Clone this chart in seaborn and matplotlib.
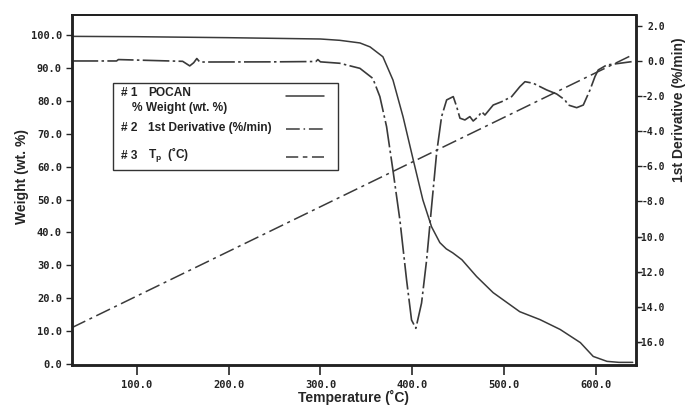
import numpy as np
import pandas as pd
import matplotlib
matplotlib.use("Agg")
import matplotlib.pyplot as plt
import seaborn as sns

# weight loss curve (left axis)
wt_temp = [29, 100, 200, 300, 321, 343, 354, 368, 379, 390, 401, 411.5, 421, 430,
           437, 444, 454, 470, 488, 517, 539, 561, 583, 597, 612, 625, 640]
wt_val = [99.6, 99.5, 99.2, 98.8, 98.4, 97.6, 96.4, 93.4, 86.3, 75.1, 62.1, 49.9, 41.7, 36.9,
          35.0, 33.8, 31.7, 26.6, 21.7, 15.9, 13.5, 10.5, 6.5, 2.3, 0.8, 0.5, 0.5]

# 1st derivative (right axis)
dv_temp = [29, 78, 80, 150, 157.7, 162, 165.4, 168.6, 250, 295, 297.2, 300, 321, 343, 357,
           364.7, 372, 378.9, 386.5, 393.8, 399.2, 403.9, 410.1, 415.6, 421, 426.5, 431.9,
           437.4, 444.6, 448.3, 451.9, 457.3, 462.7, 466.3, 471.8, 475.5, 479.1, 488.1,
           497.3, 508.2, 517.2, 522.7, 531.7, 546.3, 557.2, 566.2, 569.8, 579, 586.2,
           593.5, 598.9, 602.5, 611.7, 626.1, 638.8]
dv_val = [0.0, 0.0, 0.08, -0.02, -0.28, -0.1, 0.14, -0.06, -0.05, -0.03, 0.08, -0.05, -0.13,
          -0.42, -0.99, -2.03, -3.74, -6.21, -9.06, -12.48, -14.76, -15.23, -13.79, -11.34,
          -8.30, -5.24, -3.17, -2.22, -2.03, -2.60, -3.26, -3.36, -3.17, -3.42, -3.17,
          -2.89, -3.08, -2.51, -2.32, -2.03, -1.46, -1.18, -1.27, -1.65, -1.88, -2.22,
          -2.51, -2.66, -2.51, -1.65, -0.89, -0.51, -0.23, -0.13, -0.04]

# Tp line (left axis scale)
tp_temp = [29, 640]
tp_val = [11.0, 94.0]

left_ticks = [0, 10, 20, 30, 40, 50, 60, 70, 80, 90, 100]
right_ticks = [2, 0, -2, -4, -6, -8, -10, -12, -14, -16]
x_ticks = [100, 200, 300, 400, 500, 600]

sns.set_style("ticks")
plt.rcParams['mathtext.fontset'] = 'custom'
plt.rcParams['mathtext.bf'] = 'Liberation Sans:bold'
plt.rcParams['mathtext.rm'] = 'Liberation Sans'

line_col = '#3a3a3a'
fig = plt.figure(figsize=(6.85, 4.05), dpi=100)
ax = fig.add_axes([0.1047, 0.0988, 0.8238, 0.8642])
ax2 = ax.twinx()

df_w = pd.DataFrame({'T': wt_temp, 'w': wt_val})
df_d = pd.DataFrame({'T': dv_temp, 'd': dv_val})
df_t = pd.DataFrame({'T': tp_temp, 'tp': tp_val})

sns.lineplot(data=df_w, x='T', y='w', ax=ax, color=line_col, linewidth=1.1)
sns.lineplot(data=df_t, x='T', y='tp', ax=ax, color=line_col, linewidth=1.1,
             linestyle=(0, (10, 3, 2, 3)))
sns.lineplot(data=df_d, x='T', y='d', ax=ax2, color=line_col, linewidth=1.2,
             linestyle=(0, (16, 2, 1.5, 2)))

ax.set_xlim(29.2, 643.6)
ax.set_ylim(-0.3, 106.1)
ax2.set_ylim(-17.32, 2.62)

tick_font = dict(family='DejaVu Sans Mono', weight='bold', size=7.5)
rtick_font = dict(family='DejaVu Sans Mono', weight='bold', size=7.0)
lab_font = dict(family='Liberation Sans', weight='bold', size=10)

ax.set_xticks(x_ticks)
ax.set_xticklabels([f"{v:.1f}" for v in x_ticks], fontdict=tick_font, color='#222222')
ax.set_yticks(left_ticks)
ax.set_yticklabels([f"{v:.1f}" for v in left_ticks], fontdict=tick_font, color='#222222')
ax2.set_yticks(right_ticks)
ax2.set_yticklabels([f"{v:.1f}" for v in right_ticks], fontdict=rtick_font,
                    color='#222222', ha='right')

ax.tick_params(axis='x', direction='out', length=7, width=1.2, pad=4)
ax.tick_params(axis='y', direction='out', length=4, width=1.0, pad=3)
ax2.tick_params(axis='y', direction='out', length=4, width=1.0, pad=17)


# positions in pixels of the figure -> axes fractions
def fx(px):
    return (px - 71.7) / 564.3


def fy(py):
    return (365 - py) / 350


ax.set_xlabel("Temperature (˚C)", fontdict=lab_font)
ax.xaxis.set_label_coords(0.5, fy(390))
ax.set_ylabel("Weight (wt. %)", fontdict=lab_font)
ax.yaxis.set_label_coords(fx(29), fy(177))
ax2.set_ylabel("1st Derivative (%/min)", fontdict=lab_font)
ax2.yaxis.set_label_coords(fx(672), fy(110))

for a in (ax, ax2):
    for s in a.spines.values():
        s.set_visible(True)
        s.set_linewidth(1.8)
        s.set_color('#222222')
ax.spines['top'].set_linewidth(1.4)
ax2.spines['top'].set_linewidth(1.4)

# legend box drawn by hand
box = plt.Rectangle((fx(113), fy(170)), fx(338) - fx(113), fy(83) - fy(170),
                    transform=ax.transAxes, fill=True, facecolor='white',
                    edgecolor='#333333', linewidth=1.0, zorder=5)
ax.add_patch(box)

leg_font = dict(family='Liberation Sans', weight='bold', size=8.6, color='#222222')
ax.text(fx(121), fy(93), "# 1", transform=ax.transAxes, va='center', zorder=6, **leg_font)
ax.text(fx(148), fy(93), "POCAN", transform=ax.transAxes, va='center', zorder=6, **leg_font)
ax.text(fx(132), fy(108), "% Weight (wt. %)", transform=ax.transAxes, va='center', zorder=6, **leg_font)
ax.text(fx(121), fy(128), "# 2", transform=ax.transAxes, va='center', zorder=6, **leg_font)
ax.text(fx(148), fy(128), "1st Derivative (%/min)", transform=ax.transAxes, va='center', zorder=6, **leg_font)
ax.text(fx(121), fy(156), "# 3", transform=ax.transAxes, va='center', zorder=6, **leg_font)
ax.text(fx(148), fy(156), r"$\mathbf{T_p}$  (˚C)", transform=ax.transAxes, va='center', zorder=6, **leg_font)

ax.plot([fx(286), fx(324)], [fy(96), fy(96)], transform=ax.transAxes, color=line_col,
        linewidth=1.1, zorder=6)
ax.plot([fx(286), fx(324)], [fy(129), fy(129)], transform=ax.transAxes, color=line_col,
        linewidth=1.1, linestyle=(0, (9, 2.5, 1, 2.5)), zorder=6)
ax.plot([fx(286), fx(324)], [fy(157), fy(157)], transform=ax.transAxes, color=line_col,
        linewidth=1.1, linestyle=(0, (8, 3, 3, 3)), zorder=6)

fig.savefig("out.png", dpi=100)
